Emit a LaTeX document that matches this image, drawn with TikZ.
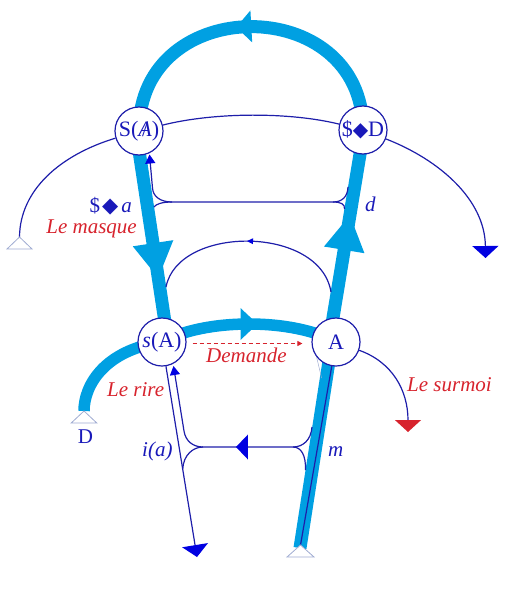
\documentclass[tikz,border=0pt]{standalone}
\usepackage{fontspec}
\setmainfont{Liberation Serif}
\newfontfamily\djv{DejaVu Sans}
\usetikzlibrary{arrows.meta,decorations.markings}
\definecolor{bandc}{RGB}{0,160,226}
\definecolor{ln}{RGB}{30,30,170}
\definecolor{ah}{RGB}{0,0,225}
\definecolor{tx}{RGB}{25,25,185}
\definecolor{rd}{RGB}{215,35,45}
\definecolor{tri}{RGB}{160,172,210}
\newcommand{\dmd}[1]{{\djv\fontsize{#1}{#1}\selectfont ◆}}
\newcommand{\slashA}{\ooalign{\textit{A}\cr\hidewidth/\hidewidth\cr}}
\tikzset{
  band/.style={draw=bandc,line width=13pt},
  midtri/.style n args={4}{postaction={decorate},decoration={markings,mark=at position #1 with {\fill[#4] ({#2*0.5pt},0pt) -- ({-#2*0.5pt},{#3*0.5pt}) -- ({-#2*0.5pt},{-#3*0.5pt}) -- cycle;}}},
  thinl/.style={draw=ln,line width=1.2pt},
  circ/.style={circle,draw=ln,line width=1.2pt,fill=white,minimum size=48pt,inner sep=0pt,text=tx,font=\fontsize{22}{26}\selectfont},
  lbl/.style={text=tx,inner sep=0pt},
  rlbl/.style={text=rd,inner sep=0pt,font=\fontsize{21}{25}\selectfont\itshape},
  opentri/.style={draw=tri,fill=white,line width=0.8pt},
  smalltip/.style={-{Triangle[length=9pt,width=10pt,color=ah]}},
  bigtip/.style={-{Triangle[length=12pt,width=26pt,color=#1]}}
}
\begin{document}
\begin{tikzpicture}[x=1pt,y=-1pt,font=\fontsize{21}{25}\selectfont]
\useasboundingbox (0,0) rectangle (511,592);
% node positions
\coordinate (pSA) at (139,131);
\coordinate (pSD) at (363,130);
\coordinate (psA) at (162,342);
\coordinate (pA) at (336,342);
% band end points
\coordinate (Lt) at (136,131);
\coordinate (Lb) at (168,342);
\coordinate (Rb) at (329,342);
\coordinate (Rt) at (364,130);
\coordinate (Mt) at (332,342);
% free ends
\coordinate (SAtri) at (19.5,237);
\coordinate (Dtri) at (84,411);
\coordinate (mtri) at (300.5,545);
\coordinate (SDend) at (485.5,258);
\coordinate (iaend) at (197,557);
\coordinate (surend) at (408,432);
\coordinate (SAtip) at (149.5,154.5);
\coordinate (sAtip) at (173.5,366);
\coordinate (arcR) at (331,292);
\coordinate (arcL) at (166,287);
\coordinate (fR1) at (348,187);
\coordinate (fR2) at (344.5,209);
\coordinate (fL1) at (152.5,188);
\coordinate (fL2) at (154,207);
\coordinate (mR1) at (312,427);
\coordinate (mR2) at (305.5,470);
\coordinate (iaJ) at (182.7,469);
\coordinate (hR) at (293,447);
\coordinate (hL) at (203,447);

% thick bands
\draw[band,midtri={0.52}{15}{32}{bandc}] (pSD) .. controls (363,-8) and (139,-8) .. (pSA);
\draw[band,midtri={0.614}{35}{41}{bandc}] (Lt) -- (Lb);
\draw[band,midtri={0.516}{35}{41}{bandc}] (Rb) -- (Rt);
\draw[band] (Mt) -- (300,548);
\draw[draw=bandc,line width=11.5pt] (Dtri) .. controls (84,385) and (105,350) .. (psA);
\draw[draw=bandc,line width=11.5pt,midtri={0.5}{17}{32}{bandc}] (psA) .. controls (205,318) and (293,318) .. (pA);

% nodes
\node[circ] (SA) at (pSA) {S(\slashA)};
\node[circ] (SD) at (pSD) {\$\dmd{20}D};
\node[circ] (sA) at (psA) {\textit{s}(A)};
\node[circ] (A) at (pA) {A};

% thin connectors
\draw[thinl] (SA) .. controls (60,155) and (20,190) .. (SAtri);
\draw[thinl] (SA) .. controls (215,112) and (290,112) .. (SD);
\draw[thinl,bigtip=ah] (SD) .. controls (440,160) and (485,200) .. (SDend);
\draw[thinl,midtri={0.5}{6}{6}{ah}] (arcR) .. controls (320,225) and (178,225) .. (arcL);
\draw[thinl,smalltip] (fR1) .. controls (347.5,197) and (342,202) .. (333,202) -- (172,202) .. controls (161,202) and (153,197) .. (fL1) -- (SAtip);
\draw[thinl] (fR2) .. controls (345,204) and (341,202) .. (333,202);
\draw[thinl] (172,202) .. controls (162,202) and (156,204) .. (fL2);
\draw[thinl,smalltip] (mR1) .. controls (311,440) and (303,447) .. (hR) -- (hL) .. controls (193,447) and (185.5,441) .. (184,431) -- (sAtip);
\draw[thinl] (mR2) .. controls (306,455) and (301,447) .. (hR);
\draw[thinl] (hL) .. controls (193,447) and (183.5,455) .. (iaJ);
\path[midtri={0.567}{12}{25}{ah}] (hR) -- (hL);
\draw[thinl,bigtip=ah] (sA) -- (iaend);
\draw[thinl] (A) -- (mtri);
\draw[draw=tri,line width=0.5pt] (A.218) -- ++(5,21);
\draw[thinl,bigtip=rd] (A) .. controls (392,362) and (408,390) .. (surend);
\draw[rd,line width=0.8pt,dash pattern=on 4pt off 3pt,shorten <=6pt,shorten >=9pt,-{Triangle[length=5pt,width=5pt]}] ([yshift=-1.5pt]sA.east) -- ([yshift=-1.5pt]A.west);

% open triangles
\draw[opentri] (SAtri) -- ++(12.5,12) -- ++(-25,0) -- cycle;
\draw[opentri] (Dtri) -- ++(12.8,12) -- ++(-25.6,0) -- cycle;
\draw[opentri] (mtri) -- ++(13.5,12) -- ++(-27,0) -- cycle;

% labels
\node[lbl,anchor=base east] (lSa) at (132,212) {\$\hspace{2pt}\dmd{21}\hspace{3pt}\textit{a}};
\node[rlbl,anchor=base east] (lmask) at (137,233) {Le masque};
\node[lbl,anchor=base west] (ld) at (365,211) {\textit{d}};
\node[rlbl,anchor=base west] (ldem) at (206,362) {Demande};
\node[rlbl,anchor=base west] (lrire) at (107,396) {Le rire};
\node[rlbl,anchor=base west] (lsur) at (407,391) {Le surmoi};
\node[lbl,anchor=base west] (lia) at (142,456) {\textit{i(a)}};
\node[lbl,anchor=base west] (lm) at (328,456) {\textit{m}};
\node[lbl,anchor=base] (lD) at (85.5,443) {D};
\end{tikzpicture}
\end{document}
